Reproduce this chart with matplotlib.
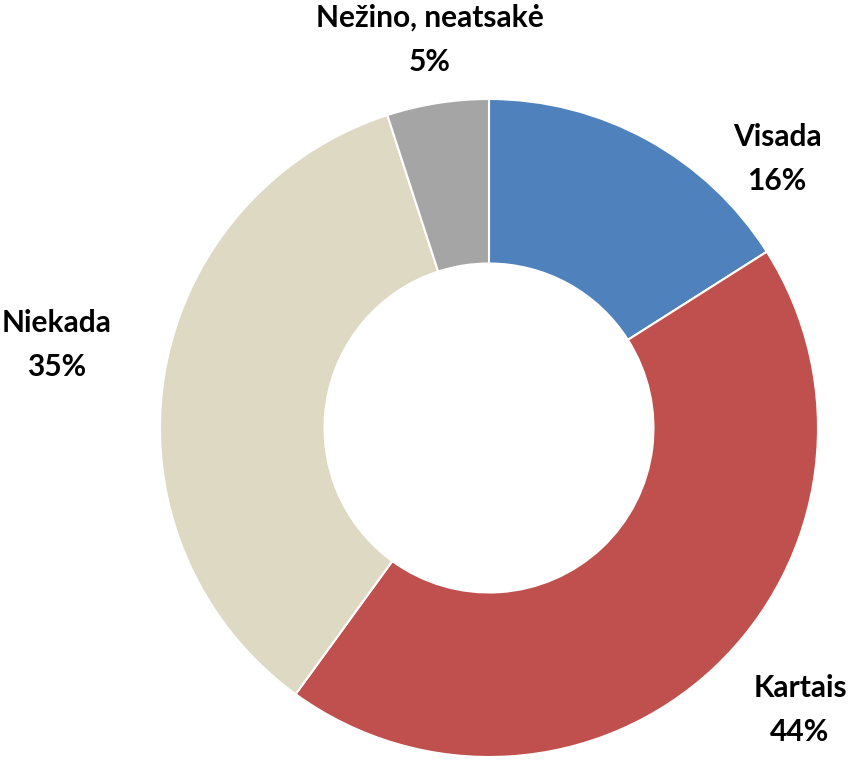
import matplotlib

matplotlib.use("Agg")
import matplotlib.pyplot as plt

# ---- data ---------------------------------------------------------------
LABELS = ["Visada", "Kartais", "Niekada", "Nežino, neatsakė"]
SHARES = [16, 44, 35, 5]
COLORS = ["#4F81BD", "#C0504D", "#DDD9C3", "#A5A5A5"]

# label anchor points (pixel-like axis units, origin bottom-left)
LABEL_POS = [(777, 602), (800, 51), (57, 416), (430, 721)]

W, H = 868, 761
CX, CY, R = 489, 333, 329

plt.rcParams["font.family"] = ["Lato", "DejaVu Sans"]

fig = plt.figure(figsize=(W / 100, H / 100), dpi=100)
ax = fig.add_axes([0, 0, 1, 1])

ax.pie(
    SHARES,
    colors=COLORS,
    startangle=90,
    counterclock=False,
    center=(CX, CY),
    radius=R,
    wedgeprops=dict(width=R * 0.5, edgecolor="white", linewidth=1.5),
    frame=True,
)
ax.set_xlim(0, W)
ax.set_ylim(0, H)
ax.set_aspect("equal")
ax.axis("off")

for lab, val, (x, y) in zip(LABELS, SHARES, LABEL_POS):
    ax.text(x, y, f"{lab}\n{val}%", ha="center", va="center",
            fontsize=21.5, fontweight="bold", color="black", linespacing=1.7)

fig.savefig("out.png", dpi=100, facecolor="white")
